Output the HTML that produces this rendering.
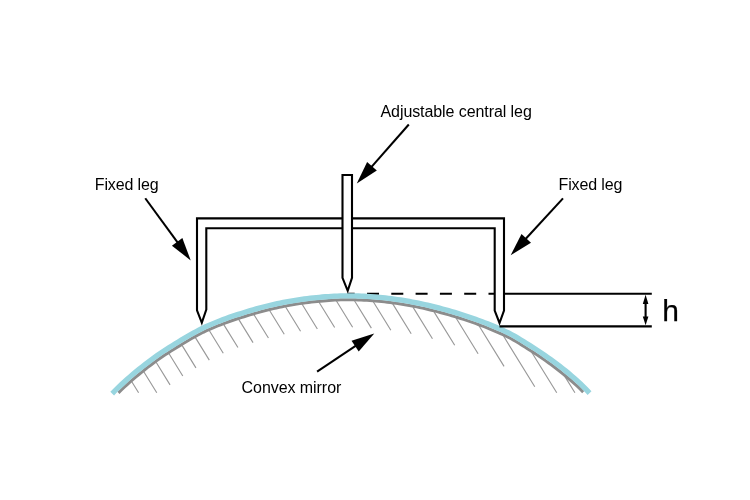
<!DOCTYPE html>
<html><head><meta charset="utf-8"><title>Spherometer on convex mirror</title>
<style>
html,body{margin:0;padding:0;background:#fff;}
body{width:750px;height:500px;overflow:hidden;}
svg{display:block;}
text{font-family:"Liberation Sans",Arial,Helvetica,sans-serif;fill:#000;}
</style></head><body>
<svg width="750" height="500" viewBox="0 0 750 500">
<rect width="750" height="500" fill="#fff"/>
<!-- hatching -->
<path d="M131.80 381.79L138.60 392.80M143.80 371.78L156.78 392.80M156.14 362.31L170.05 384.85M168.92 353.57L182.79 376.04M182.07 345.42L195.94 367.89M195.42 337.59L209.30 360.08M209.26 330.57L223.27 353.26M223.78 324.63L237.92 347.54M238.72 319.40L253.04 342.58M254.02 314.71L268.43 338.07M269.60 310.52L284.25 334.25M285.63 307.03L300.56 331.22M302.13 304.30L317.36 328.98M319.05 302.27L334.66 327.56M336.47 301.03L352.62 327.19M354.52 300.82L371.37 328.12M373.30 301.79L390.86 330.25M392.76 303.86L411.19 333.73M412.97 307.16L432.46 338.73M434.06 311.88L454.70 345.31M456.05 318.05L478.09 353.75M479.01 325.79L504.06 366.36M503.53 336.05L534.78 386.69M531.99 352.71L556.74 392.80M565.11 376.91L574.92 392.80" stroke="#999" stroke-width="1.15" fill="none"/>
<!-- dashed reference line -->
<line x1="347.8" y1="293.75" x2="494.5" y2="293.75" stroke="#000" stroke-width="2.15" stroke-dasharray="12 12.3" stroke-dashoffset="5.1"/>
<!-- mirror -->
<path d="M118.43 392.85L121.35 390.01L124.27 387.25L127.19 384.56L130.10 381.94L133.02 379.39L135.94 376.91L138.86 374.49L141.80 372.10L144.74 369.75L147.68 367.44L150.60 365.19L153.52 363.00L156.43 360.87L159.34 358.80L162.25 356.80L165.17 354.84L168.09 352.92L171.01 351.05L173.95 349.21L176.88 347.40L179.85 345.60L182.84 343.79L185.79 342.00L188.73 340.25L191.63 338.57L194.55 336.93L197.50 335.30L200.39 333.74L203.22 332.29L206.05 330.94L208.94 329.62L211.84 328.35L214.74 327.13L217.66 325.94L220.58 324.79L223.51 323.66L226.44 322.56L229.35 321.50L232.26 320.48L235.17 319.50L238.10 318.55L241.03 317.61L243.98 316.70L246.94 315.80L249.91 314.90L252.87 314.01L255.80 313.15L258.73 312.32L261.65 311.52L264.58 310.75L267.50 310.01L270.43 309.29L273.35 308.60L276.28 307.94L279.20 307.31L282.12 306.70L285.05 306.12L287.97 305.57L290.90 305.05L293.82 304.55L296.74 304.08L299.67 303.64L302.60 303.22L305.54 302.82L308.48 302.44L311.41 302.08L314.34 301.75L317.27 301.44L320.19 301.16L323.11 300.90L326.04 300.67L328.98 300.46L331.91 300.27L334.84 300.11L337.76 299.97L340.67 299.86L343.58 299.78L346.47 299.74L349.36 299.74L352.28 299.78L355.20 299.84L358.13 299.93L361.05 300.04L363.98 300.18L366.91 300.34L369.83 300.53L372.76 300.75L375.69 300.98L378.62 301.25L381.54 301.53L384.47 301.84L387.40 302.18L390.33 302.54L393.26 302.92L396.19 303.33L399.12 303.76L402.05 304.21L404.97 304.70L407.90 305.20L410.83 305.74L413.76 306.30L416.69 306.88L419.62 307.49L422.55 308.13L425.48 308.78L428.41 309.47L431.35 310.17L434.28 310.90L437.22 311.65L440.16 312.43L443.10 313.22L446.03 314.04L448.97 314.88L451.91 315.75L454.85 316.63L457.79 317.54L460.73 318.47L463.67 319.42L466.62 320.39L469.56 321.38L472.50 322.39L475.43 323.42L478.36 324.48L481.28 325.57L484.20 326.69L487.12 327.84L490.04 329.03L492.97 330.26L495.90 331.51L498.82 332.80L501.74 334.12L504.67 335.48L507.56 336.86L510.31 338.28L513.13 339.85L515.99 341.55L518.91 343.33L521.87 345.18L524.87 347.05L527.85 348.90L530.76 350.73L533.69 352.62L536.62 354.56L539.55 356.54L542.49 358.56L545.43 360.61L548.37 362.70L551.29 364.82L554.22 366.98L557.13 369.20L560.04 371.47L562.94 373.81L565.85 376.23L568.83 378.74L571.76 381.24L574.65 383.78L577.51 386.40L580.34 389.16L583.23 392.13" stroke="#8c8c8c" stroke-width="3.0" fill="none"/>
<path d="M112.19 393.51L115.19 390.50L118.19 387.57L121.19 384.72L124.19 381.95L127.19 379.25L130.19 376.62L133.19 374.06L136.19 371.57L139.20 369.12L142.21 366.71L145.22 364.35L148.22 362.04L151.22 359.78L154.22 357.59L157.21 355.47L160.21 353.40L163.21 351.39L166.21 349.43L169.22 347.51L172.22 345.63L175.23 343.78L178.26 341.95L181.28 340.11L184.30 338.29L187.30 336.51L190.29 334.79L193.30 333.11L196.31 331.45L199.29 329.86L202.25 328.37L205.22 326.97L208.21 325.62L211.21 324.33L214.20 323.08L217.20 321.87L220.20 320.70L223.21 319.55L226.22 318.44L229.21 317.36L232.21 316.33L235.21 315.33L238.21 314.36L241.22 313.42L244.24 312.49L247.25 311.58L250.28 310.66L253.29 309.77L256.29 308.91L259.29 308.07L262.30 307.26L265.30 306.49L268.30 305.74L271.30 305.02L274.31 304.33L277.31 303.67L280.31 303.04L283.32 302.44L286.32 301.86L289.32 301.31L292.32 300.80L295.33 300.31L298.33 299.84L301.33 299.41L304.34 299.00L307.35 298.60L310.36 298.23L313.36 297.88L316.37 297.56L319.37 297.27L322.37 297.00L325.37 296.76L328.38 296.54L331.39 296.35L334.40 296.18L337.40 296.03L340.39 295.92L343.39 295.84L346.38 295.79L349.37 295.79L352.37 295.83L355.37 295.89L358.37 295.98L361.38 296.10L364.38 296.25L367.38 296.42L370.39 296.61L373.39 296.83L376.40 297.08L379.40 297.35L382.40 297.65L385.41 297.97L388.41 298.32L391.42 298.70L394.42 299.09L397.43 299.52L400.43 299.96L403.44 300.44L406.44 300.94L409.44 301.47L412.45 302.02L415.45 302.61L418.46 303.21L421.46 303.85L424.47 304.51L427.48 305.19L430.48 305.90L433.49 306.63L436.50 307.39L439.50 308.17L442.51 308.97L445.52 309.80L448.53 310.65L451.54 311.52L454.55 312.41L457.56 313.33L460.57 314.27L463.57 315.23L466.59 316.22L469.60 317.22L472.61 318.24L475.61 319.29L478.62 320.37L481.62 321.48L484.62 322.62L487.62 323.79L490.62 325.00L493.63 326.25L496.63 327.53L499.63 328.84L502.64 330.19L505.64 331.57L508.64 332.99L511.57 334.47L514.53 336.10L517.50 337.84L520.50 339.67L523.51 341.55L526.54 343.45L529.58 345.32L532.57 347.20L535.58 349.14L538.58 351.12L541.59 353.15L544.60 355.21L547.61 357.31L550.61 359.45L553.62 361.62L556.62 363.85L559.62 366.13L562.61 368.47L565.61 370.89L568.61 373.39L571.63 375.94L574.63 378.50L577.62 381.14L580.59 383.89L583.56 386.80L586.55 389.89L589.54 393.09" stroke="#98d5df" stroke-width="5.3" fill="none"/>
<!-- frame -->
<path d="M197 218.4H504V310.6L499.5 323L494.7 310.6V228.2H206.3V309.6L201.8 322.8L197 310.4Z" fill="#fff" stroke="#000" stroke-width="2.1" stroke-linejoin="miter"/>
<!-- central leg -->
<path d="M342.5 175H352V277.8L347.7 290.8L342.5 277.8Z" fill="#fff" stroke="#000" stroke-width="2.1" stroke-linejoin="miter"/>
<!-- h dimension -->
<line x1="504" y1="293.75" x2="651.8" y2="293.75" stroke="#000" stroke-width="2.15"/>
<line x1="499.5" y1="326.35" x2="651.8" y2="326.35" stroke="#000" stroke-width="2.15"/>
<line x1="645.6" y1="300" x2="645.6" y2="320" stroke="#000" stroke-width="2.1"/>
<polygon points="645.6,294.8 648.4,304 642.8,304" fill="#000"/>
<polygon points="645.6,325.3 648.4,316.4 642.8,316.4" fill="#000"/>
<line x1="145.25" y1="198.25" x2="177.73" y2="242.64" stroke="#000" stroke-width="2.05"/><polygon points="190.72,260.40 171.94,245.64 182.35,238.03" fill="#000"/><line x1="408.80" y1="124.50" x2="371.31" y2="167.09" stroke="#000" stroke-width="2.05"/><polygon points="356.77,183.60 367.13,162.08 376.81,170.60" fill="#000"/><line x1="563.00" y1="198.40" x2="525.57" y2="239.01" stroke="#000" stroke-width="2.05"/><polygon points="510.66,255.19 521.50,233.90 530.99,242.65" fill="#000"/><line x1="317.10" y1="371.60" x2="355.97" y2="345.67" stroke="#000" stroke-width="2.05"/><polygon points="374.27,333.46 358.71,351.59 351.55,340.86" fill="#000"/>
<g style="filter:grayscale(1)"><text x="380.5" y="117.2" font-size="16" textLength="151.3" lengthAdjust="spacing">Adjustable central leg</text>
<text x="94.8" y="189.7" font-size="16" textLength="63.9" lengthAdjust="spacing">Fixed leg</text>
<text x="558.5" y="189.7" font-size="16" textLength="63.9" lengthAdjust="spacing">Fixed leg</text>
<text x="241.6" y="392.5" font-size="16" textLength="99.7" lengthAdjust="spacing">Convex mirror</text>
<text x="662.3" y="320.8" font-size="30" stroke="#000" stroke-width="0.25">h</text></g>
</svg>
</body></html>
